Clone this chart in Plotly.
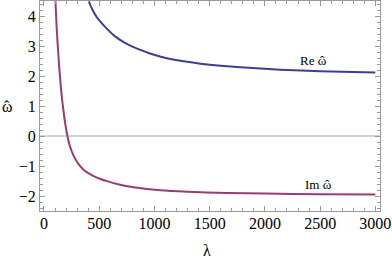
import plotly.graph_objects as go

# Re(omega-hat) curve
re_lambda = [370, 405, 440, 480, 520, 571, 640, 722, 800, 873, 960, 1050, 1144, 1280, 1415, 1600, 1777, 2000, 2138, 2500, 3000]
re_omega = [4.9, 4.5, 4.2, 3.95, 3.77, 3.57, 3.33, 3.13, 2.98, 2.87, 2.75, 2.65, 2.57, 2.48, 2.41, 2.34, 2.29, 2.24, 2.21, 2.16, 2.12]

# Im(omega-hat) curve
im_lambda = [97, 104, 115, 125, 137, 150, 163, 178, 195, 212, 230, 250, 270, 310, 360, 410, 450, 500, 571, 680, 812, 1053, 1300, 1656, 2000, 2500, 3000]
im_omega = [5.1, 4.5, 3.6, 3.0, 2.35, 1.75, 1.25, 0.8, 0.35, 0.0, -0.28, -0.5, -0.67, -0.92, -1.13, -1.255, -1.335, -1.415, -1.505, -1.615, -1.705, -1.81, -1.86, -1.90, -1.92, -1.94, -1.95]

x_ticks = [0, 500, 1000, 1500, 2000, 2500, 3000]
y_ticks = [-2, -1, 0, 1, 2, 3, 4]

# curve labels: (text, lambda, omega)
labels = [("Re ω", 2437, 2.53), ("Im ω", 2486, -1.62)]

BLUE = "#3d3d99"
RED = "#993d71"
FRAME = "#9a9a9a"
FONT = "Liberation Serif"
HAT = "ˆ"

fig = go.Figure()
fig.add_trace(go.Scatter(x=re_lambda, y=re_omega, mode="lines",
                         line=dict(color=BLUE, width=2, shape="spline", smoothing=0.6),
                         showlegend=False, hoverinfo="skip"))
fig.add_trace(go.Scatter(x=im_lambda, y=im_omega, mode="lines",
                         line=dict(color=RED, width=2, shape="spline", smoothing=0.6),
                         showlegend=False, hoverinfo="skip"))

for txt, lx, ly in labels:
    fig.add_annotation(x=lx, y=ly, text=txt, showarrow=False,
                       font=dict(family=FONT, size=13, color="black"))
    fig.add_annotation(x=lx, y=ly, text=HAT, showarrow=False, xshift=9, yshift=0,
                       font=dict(family=FONT, size=13, color="black"))

# y-axis title (horizontal, Mathematica style)
fig.add_annotation(xref="paper", yref="paper", x=-0.097, y=0.50, text="ω",
                   showarrow=False, xanchor="center", yanchor="middle",
                   font=dict(family=FONT, size=16, color="black"))
fig.add_annotation(xref="paper", yref="paper", x=-0.097, y=0.50, text=HAT,
                   showarrow=False, xanchor="center", yanchor="middle",
                   font=dict(family=FONT, size=16, color="black"))
# x-axis title
fig.add_annotation(xref="paper", yref="paper", x=0.49, y=-0.19, text="λ",
                   showarrow=False, xanchor="center", yanchor="middle",
                   font=dict(family=FONT, size=16, color="black"))

fig.update_xaxes(range=[-36, 3042], tickvals=x_ticks, ticktext=[str(v) for v in x_ticks],
                 showgrid=False, zeroline=False, automargin=False,
                 showline=True, linecolor=FRAME, linewidth=1, mirror="allticks",
                 ticks="inside", ticklen=5, tickcolor=FRAME, tickwidth=1,
                 ticklabelstandoff=-2,
                 minor=dict(dtick=100, ticks="inside", ticklen=3, tickcolor=FRAME, showgrid=False),
                 tickfont=dict(family=FONT, size=16, color="black"))
fig.update_yaxes(range=[-2.5, 4.5], tickvals=y_ticks,
                 ticktext=[("−" + str(-v)) if v < 0 else str(v) for v in y_ticks],
                 showgrid=False, zeroline=True, zerolinecolor="#d4d4d4", zerolinewidth=1.5,
                 automargin=False,
                 showline=True, linecolor=FRAME, linewidth=1, mirror="allticks",
                 ticks="inside", ticklen=5, tickcolor=FRAME, tickwidth=1,
                 minor=dict(dtick=0.2, ticks="inside", ticklen=3, tickcolor=FRAME, showgrid=False),
                 tickfont=dict(family=FONT, size=16, color="black"))

fig.update_layout(width=392, height=258, margin=dict(l=40, r=12, t=1, b=47),
                  plot_bgcolor="white", paper_bgcolor="white",
                  font=dict(family=FONT))

fig.write_html("out.html", config={"displayModeBar": False},
               post_script="document.body.style.margin='0';document.body.style.padding='0';")
